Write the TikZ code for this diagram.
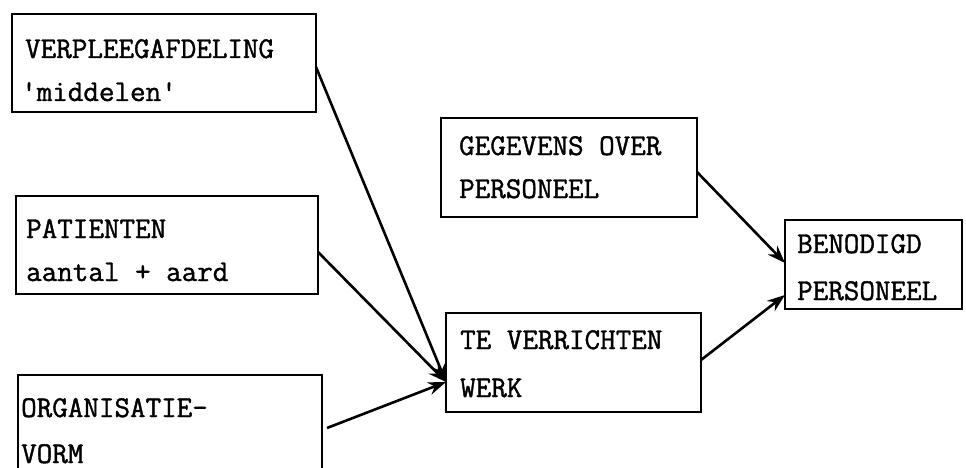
\documentclass[tikz,border=0pt]{standalone}
\usepackage{fontspec}
\newfontfamily\typewriter[FakeBold=1.3]{Latin Modern Mono}
\usetikzlibrary{arrows.meta}
\begin{document}
\begin{tikzpicture}[x=1pt,y=-1pt,
  box/.style={draw,line width=2.4pt,rectangle,inner sep=0pt,outer sep=0pt},
  txt/.style={anchor=base west,inner sep=0pt,font=\typewriter\fontsize{30.2}{34}\selectfont},
  link/.style={line width=2.6pt,-{Stealth[length=18pt,width=13pt,inset=6pt]}}]
\useasboundingbox (0,0) rectangle (966,468);
\clip (0,0) rectangle (966,468);

% boxes
\node[box,minimum width=304pt,minimum height=98pt] (verpl) at (164,63) {};
\node[box,minimum width=302pt,minimum height=98pt] (pat) at (167,245) {};
\node[box,minimum width=304pt,minimum height=120pt] (org) at (170,435) {};
\node[box,minimum width=256pt,minimum height=99pt] (geg) at (569,167.5) {};
\node[box,minimum width=255pt,minimum height=99pt] (werk) at (573.5,362.5) {};
\node[box,minimum width=177pt,minimum height=89pt] (ben) at (873.5,264.5) {};

% labels
\node[txt] (t1a) at (25,58) {VERPLEEGAFDELING};
\node[txt] (t1b) at (21,101) {\textquotesingle middelen\textquotesingle};
\node[txt] (t2a) at (26,238) {PATIENTEN};
\node[txt] (t2b) at (26,281) {aantal + aard};
\node[txt] (t3a) at (21,417) {ORGANISATIE-};
\node[txt] (t3b) at (21,463) {VORM};
\node[txt] (t4a) at (459,155) {GEGEVENS OVER};
\node[txt] (t4b) at (459,198) {PERSONEEL};
\node[txt] (t5a) at (460,349) {TE VERRICHTEN};
\node[txt] (t5b) at (460,397) {WERK};
\node[txt] (t6a) at (797,253) {BENODIGD};
\node[txt] (t6b) at (797,300) {PERSONEEL};

% connector ends on the box borders
\coordinate (werkin) at ([yshift=-19.5pt]werk.west);
\coordinate (benin1) at ([yshift=1.5pt]ben.west);
\coordinate (benin2) at ([yshift=-30.5pt]ben.west);

\draw[link] ([yshift=-4pt]verpl.east) -- (werkin);
\draw[link] ([yshift=-7pt]pat.east) -- (werkin);
\draw[link] ([xshift=5pt,yshift=7pt]org.east) -- (werkin);
\draw[link] ([yshift=-4.5pt]geg.east) -- (benin1);
\draw[link] ([yshift=2.5pt]werk.east) -- (benin2);
\end{tikzpicture}
\end{document}
